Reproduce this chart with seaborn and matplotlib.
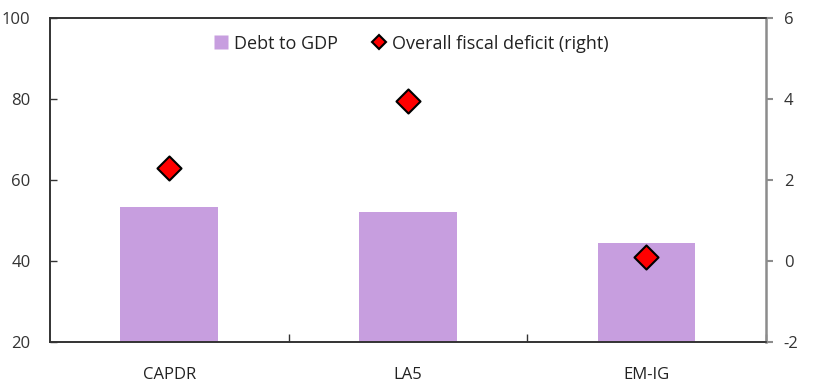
import matplotlib
matplotlib.use("Agg")
import matplotlib.pyplot as plt
import seaborn as sns
import pandas as pd
from matplotlib.lines import Line2D
from matplotlib.ticker import FixedLocator

categories = ["CAPDR", "LA5", "EM-IG"]
debt_to_gdp = [53.2, 52.2, 44.5]
fiscal_deficit = [2.3, 3.95, 0.1]
left_ticks = [20, 40, 60, 80, 100]
right_ticks = [-2, 0, 2, 4, 6]

sns.set_theme(style="white")
plt.rcParams['font.family'] = ['Open Sans', 'DejaVu Sans']
plt.rcParams['axes.unicode_minus'] = False

df = pd.DataFrame({"cat": categories, "debt": debt_to_gdp, "def": fiscal_deficit})

fig = plt.figure(figsize=(8.19, 3.89), dpi=100)
ax = fig.add_axes([0.061, 0.121, 0.874, 0.833])
bar_color = "#C79EDF"
sns.barplot(data=df, x="cat", y="debt", ax=ax, color=bar_color, width=0.41,
            saturation=1, edgecolor="none")
ax.set_ylim(20, 100)
ax.set_xlim(-0.5, 2.5)
ax.set_yticks(left_ticks)
ax.set_xlabel("")
ax.set_ylabel("")

ax2 = ax.twinx()
sns.scatterplot(data=df, x="cat", y="def", ax=ax2, marker="D", s=150,
                color="#FF0000", edgecolor="black", linewidth=1.5, zorder=5)
ax2.set_ylim(-2, 6)
ax2.set_yticks(right_ticks)
ax2.set_ylabel("")
ax2.set_xlim(-0.5, 2.5)

for a in (ax, ax2):
    for s in a.spines.values():
        s.set_color("#333333")
        s.set_linewidth(1.2)
ax2.spines["right"].set_color("#8C8C8C")
ax2.spines["right"].set_linewidth(1.8)
ax.spines["right"].set_visible(False)

ax.tick_params(axis="y", direction="in", length=5, width=1, color="#333333",
               labelsize=12, labelcolor="#333333", pad=14, left=True)
ax2.tick_params(axis="y", direction="out", length=5, width=1.5, color="#8C8C8C",
                labelsize=12, labelcolor="#333333", pad=8, right=True)
ax.xaxis.set_minor_locator(FixedLocator([0.5, 1.5, 2.5]))
ax.tick_params(axis="x", which="major", length=0, labelsize=12,
               labelcolor="#222222", pad=18)
ax.tick_params(axis="x", which="minor", direction="in", length=6, width=1,
               color="#333333", bottom=True)

handles = [
    Line2D([], [], marker="s", linestyle="none", markersize=10,
           markerfacecolor=bar_color, markeredgecolor="none", label="Debt to GDP"),
    Line2D([], [], marker="D", linestyle="none", markersize=7,
           markerfacecolor="#FF0000", markeredgecolor="black", markeredgewidth=1.5,
           label="Overall fiscal deficit (right)"),
]
leg = ax2.legend(handles=handles, loc="center", bbox_to_anchor=(0.503, 0.92),
                 ncol=2, frameon=False, fontsize=13, handletextpad=0.2,
                 columnspacing=1.8, handlelength=1.0)
for t in leg.get_texts():
    t.set_color("#222222")

fig.savefig("out.png", dpi=100)
